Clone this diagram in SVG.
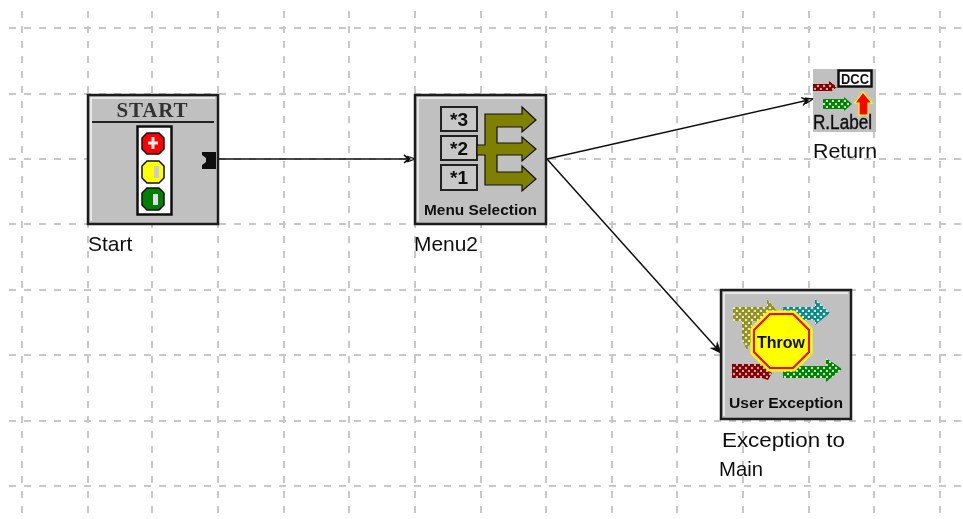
<svg xmlns="http://www.w3.org/2000/svg" width="963" height="519" viewBox="0 0 963 519">
<defs>
<filter id="soft" x="-5%" y="-5%" width="110%" height="110%"><feGaussianBlur stdDeviation="0.6"/></filter>
<marker id="head" markerUnits="userSpaceOnUse" markerWidth="14" markerHeight="12" refX="12" refY="6" orient="auto"><path d="M1 2L7 6L1 10L5 6ZM5 3.500L12 6L5 8.500Z" fill="#fff" stroke="#111" stroke-width="1.300"/></marker>
<marker id="headDark" markerUnits="userSpaceOnUse" markerWidth="14" markerHeight="12" refX="12" refY="6" orient="auto"><path d="M2 2L12 6L2 10L5 6Z" fill="#111" stroke="#111"/></marker>
<pattern id="dOlive" width="6" height="6" patternUnits="userSpaceOnUse"><rect width="6" height="6" fill="#8f8f20"/><circle cx="2" cy="2" r="1.300" fill="#e8e8c0"/><circle cx="5" cy="5" r="1.300" fill="#e8e8c0"/></pattern>
<pattern id="dTeal" width="6" height="6" patternUnits="userSpaceOnUse"><rect width="6" height="6" fill="#108888"/><circle cx="2" cy="2" r="1.300" fill="#d0eaea"/><circle cx="5" cy="5" r="1.300" fill="#d0eaea"/></pattern>
<pattern id="dRed" width="6" height="6" patternUnits="userSpaceOnUse"><rect width="6" height="6" fill="#800000"/><circle cx="2" cy="2" r="1.200" fill="#d8a8a8"/><circle cx="5" cy="5" r="1.200" fill="#d8a8a8"/></pattern>
<pattern id="dGreen" width="6" height="6" patternUnits="userSpaceOnUse"><rect width="6" height="6" fill="#008000"/><circle cx="2" cy="2" r="1.200" fill="#c8ecc8"/><circle cx="5" cy="5" r="1.200" fill="#c8ecc8"/></pattern>
</defs>
<style>
.grid{stroke:#c8c8c8;stroke-width:2;stroke-dasharray:7 8;fill:none}
.box{fill:#c0c0c0;stroke:#1a1a1a;stroke-width:2.500}
.hi{fill:none;stroke:#f4f4f4;stroke-width:1.500}
.lbl{font-family:"Liberation Sans",Arial,sans-serif;font-size:21px;fill:#111}
.cap{font-family:"Liberation Sans",Arial,sans-serif;font-size:15px;font-weight:bold;fill:#111}
.btn{fill:#c8c8c8;stroke:#222;stroke-width:2}
.num{font-family:"Liberation Sans",Arial,sans-serif;font-size:19px;font-weight:bold;fill:#111;text-anchor:middle}
.wire{stroke:#111;stroke-width:1.500;fill:none}
</style>
<rect width="963" height="519" fill="#fff"/>
<g filter="url(#soft)">
<g id="grid">
<path class="grid" d="M22 11V515M88 11V515M152 11V515M218 11V515M284 11V515M349 11V515M415 11V515M481 11V515M546 11V515M612 11V515M677 11V515M743 11V515M809 11V515M874 11V515M940 11V515"/>
<path class="grid" d="M9 28H963M9 94H963M9 159H963M9 224H963M9 290H963M9 355H963M9 421H963M9 486H963"/>
</g>
<g id="connectors">
<path class="wire" marker-end="url(#head)" d="M218 159H415"/>
<path class="wire" marker-end="url(#head)" d="M547 159L813 99"/>
<path class="wire" marker-end="url(#headDark)" d="M547 159L721 353"/>
</g>
<g id="node-start">
<rect class="box" x="88" y="95" width="130" height="129"/>
<path class="hi" d="M91 221V98H215"/>
<text x="152" y="117" text-anchor="middle" textLength="71" lengthAdjust="spacing" style="font-family:'Liberation Serif',serif;font-size:21px;font-weight:bold;fill:#333">START</text>
<path d="M92 122H214" stroke="#222" stroke-width="2"/>
<rect x="137.500" y="126.500" width="34" height="88" fill="#fff" stroke="#111" stroke-width="2.500"/>
<path d="M147 133H159L164 138V149L159 154H147L142 149V138Z" fill="#f00" stroke="#111" stroke-width="1.500"/>
<path d="M147 161H159L164 166V178L159 183H147L142 178V166Z" fill="#ff0" stroke="#111" stroke-width="1.500"/>
<path d="M147 188H159L164 193V205L159 210H147L142 205V193Z" fill="#008000" stroke="#111" stroke-width="1.500"/>
<path d="M153 137V149M148 143H158" stroke="#eee" stroke-width="3"/>
<rect x="154" y="166" width="5" height="12" fill="#ccc"/>
<rect x="153" y="194" width="5" height="11" fill="#dde"/>
<path d="M202 152H216V169H202V165L206 162V158L202 155Z" fill="#111"/>
<text class="lbl" x="88" y="251">Start</text>
</g>
<g id="node-menu2">
<rect class="box" x="415" y="95" width="131" height="129"/>
<path class="hi" d="M418 221V98H543"/>
<rect class="btn" x="441" y="107" width="36" height="24"/>
<rect class="btn" x="441" y="136" width="36" height="24"/>
<rect class="btn" x="441" y="165" width="36" height="25"/>
<text class="num" x="459" y="126">*3</text>
<text class="num" x="459" y="155">*2</text>
<text class="num" x="459" y="184">*1</text>
<path d="M477 145H485V114H522V107L536 120L522 132V127H497V143H522V137L536 149L522 161V155H497V172H522V166L536 179L522 191V185H485V155H477Z" fill="#808000" stroke="#111" stroke-width="1.200"/>
<text class="cap" x="424" y="215" textLength="113" lengthAdjust="spacingAndGlyphs">Menu Selection</text>
<text class="lbl" x="414" y="251" textLength="64" lengthAdjust="spacingAndGlyphs">Menu2</text>
</g>
<g id="node-return">
<rect x="813" y="69" width="63" height="63" fill="#c0c0c0"/>
<rect x="838.500" y="70.500" width="33" height="16" fill="#fff" stroke="#111" stroke-width="2.500"/>
<text x="855" y="84" text-anchor="middle" textLength="28" lengthAdjust="spacingAndGlyphs" style="font-family:'Liberation Sans',sans-serif;font-size:14px;font-weight:bold;fill:#111">DCC</text>
<path d="M813 84H829V81L837 87L829 93V91H813Z" fill="url(#dRed)"/>
<path d="M823 99H844V97L852 104L844 111V109H823Z" fill="url(#dGreen)"/>
<path d="M859 115V103H855L863 92L872 103H868V115Z" fill="#f00" stroke="#ff0" stroke-width="1.200"/>
<text x="813" y="129" textLength="59" lengthAdjust="spacingAndGlyphs" style="font-family:'Liberation Sans',sans-serif;font-size:20px;fill:#111;stroke:#111;stroke-width:.4">R.Label</text>
<text class="lbl" x="813" y="158" textLength="64" lengthAdjust="spacingAndGlyphs">Return</text>
</g>
<g id="node-exception">
<rect class="box" x="721" y="290" width="130" height="129"/>
<path class="hi" d="M724 416V293H848"/>
<path d="M733 307H767V299L778 312L767 321H752V340L747 350L742 340V321H733Z" fill="url(#dOlive)"/>
<path d="M783 307H815V299L830 313L815 325V320H783Z" fill="url(#dTeal)"/>
<path d="M732 364H762L772 373L768 380L762 378H732Z" fill="url(#dRed)"/>
<path d="M783 366H826V358L842 369L826 382V378H783Z" fill="url(#dGreen)"/>
<path d="M769 312H794L811 329V353L794 370H769L752 353V329Z" fill="#ff0" stroke="#ff0" stroke-width="3"/>
<path d="M770 314H793L809 330V352L793 368H770L754 352V330Z" fill="#ff0" stroke="#f00" stroke-width="2"/>
<text x="781" y="348" text-anchor="middle" textLength="48" lengthAdjust="spacingAndGlyphs" style="font-family:'Liberation Sans',sans-serif;font-size:17px;font-weight:bold;fill:#111">Throw</text>
<text class="cap" x="729" y="408" textLength="114" lengthAdjust="spacingAndGlyphs">User Exception</text>
<text class="lbl" x="722" y="447" textLength="123" lengthAdjust="spacingAndGlyphs">Exception to</text>
<text class="lbl" x="719" y="476" textLength="44" lengthAdjust="spacingAndGlyphs">Main</text>
</g>
</g>
</svg>
